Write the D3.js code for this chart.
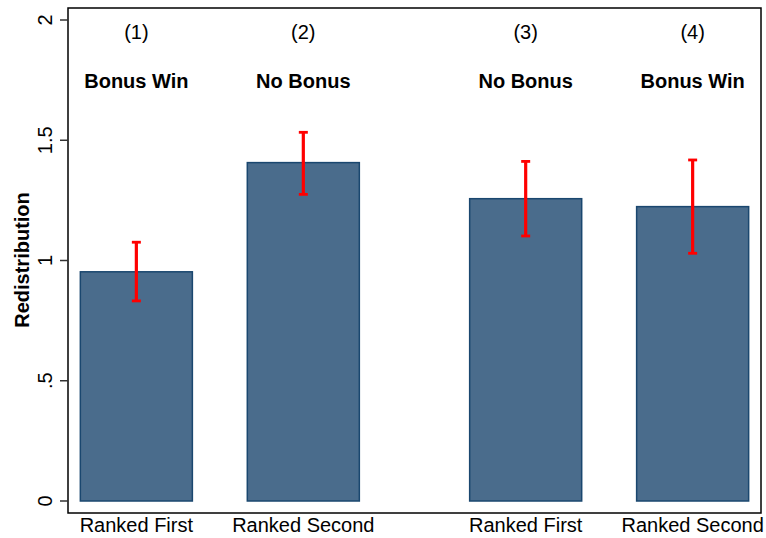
<!DOCTYPE html>
<html><head><meta charset="utf-8">
<script src="https://cdn.jsdelivr.net/npm/d3@7"></script>
<style>body{margin:0;background:#fff}svg{display:block}text{font-family:"Liberation Sans",Arial,sans-serif}</style>
</head><body>
<script>
const groups = ["G1", "G2"];
const categories = ["Ranked First", "Ranked Second"];
const columnIds = ["(1)", "(2)", "(3)", "(4)"];
const conditions = ["Bonus Win", "No Bonus", "No Bonus", "Bonus Win"];
const means = [0.953, 1.407, 1.257, 1.224];
const ciLow = [0.832, 1.275, 1.102, 1.030];
const ciHigh = [1.076, 1.533, 1.412, 1.418];
const yTicks = [0, 0.5, 1, 1.5, 2];
const yTickLabels = ["0", ".5", "1", "1.5", "2"];

const W = 766, H = 538;
const m = {left: 68, right: 5, top: 8, bottom: 25};
const FS = 20;
const svg = d3.select("body").append("svg").attr("width", W).attr("height", H);

const y = d3.scaleLinear().domain([0, 2]).range([501, 20]);
const xOuter = d3.scalePoint().domain(groups).range([m.left, W - m.right]).padding(0.39);
const inner = d3.scaleBand().domain(categories).range([-139.5, 139.5]).paddingInner(0.329).paddingOuter(0);

const data = means.map((v, i) => ({
  v, lo: ciLow[i], hi: ciHigh[i],
  g: groups[Math.floor(i / 2)], c: categories[i % 2],
  id: columnIds[i], cond: conditions[i]
}));
const xLeft = d => xOuter(d.g) + inner(d.c);
const xMid = d => xLeft(d) + inner.bandwidth() / 2;

// bars
svg.append("g").selectAll("rect").data(data).join("rect")
  .attr("x", d => xLeft(d)).attr("width", inner.bandwidth())
  .attr("y", d => y(d.v)).attr("height", d => y(0) - y(d.v))
  .attr("fill", "#4a6c8c").attr("stroke", "#1a476f").attr("stroke-width", 1.5);

// error bars
const eb = svg.append("g").attr("stroke", "#ff0000");
eb.selectAll("line.v").data(data).join("line").attr("class", "v")
  .attr("x1", xMid).attr("x2", xMid).attr("y1", d => y(d.lo)).attr("y2", d => y(d.hi))
  .attr("stroke-width", 3.2);
eb.selectAll("line.t").data(data).join("line").attr("class", "t")
  .attr("x1", d => xMid(d) - 4.5).attr("x2", d => xMid(d) + 4.5)
  .attr("y1", d => y(d.hi)).attr("y2", d => y(d.hi)).attr("stroke-width", 2.8);
eb.selectAll("line.b").data(data).join("line").attr("class", "b")
  .attr("x1", d => xMid(d) - 4.5).attr("x2", d => xMid(d) + 4.5)
  .attr("y1", d => y(d.lo)).attr("y2", d => y(d.lo)).attr("stroke-width", 2.8);

// frame
svg.append("rect").attr("x", m.left).attr("y", m.top)
  .attr("width", W - m.right - m.left).attr("height", 513 - m.top)
  .attr("fill", "none").attr("stroke", "#000").attr("stroke-width", 1.5);

// y axis
const yAxis = svg.append("g");
yAxis.selectAll("line").data(yTicks).join("line")
  .attr("x1", 60).attr("x2", m.left).attr("y1", d => y(d)).attr("y2", d => y(d))
  .attr("stroke", "#333").attr("stroke-width", 1.5);
yAxis.selectAll("text").data(yTicks).join("text")
  .attr("transform", d => `translate(52,${y(d)}) rotate(-90)`)
  .attr("text-anchor", "middle").attr("font-size", FS).attr("fill", "#000")
  .text((d, i) => yTickLabels[i]);
svg.append("text").attr("transform", `translate(29,260) rotate(-90)`)
  .attr("text-anchor", "middle").attr("font-size", FS).attr("font-weight", "bold")
  .text("Redistribution");

// labels
svg.append("g").selectAll("text").data(data).join("text")
  .attr("x", xMid).attr("y", 531.5).attr("text-anchor", "middle").attr("font-size", FS)
  .text(d => d.c);
svg.append("g").selectAll("text").data(data).join("text")
  .attr("x", xMid).attr("y", 39).attr("text-anchor", "middle").attr("font-size", FS)
  .text(d => d.id);
svg.append("g").selectAll("text").data(data).join("text")
  .attr("x", xMid).attr("y", 88).attr("text-anchor", "middle").attr("font-size", FS)
  .attr("font-weight", "bold").text(d => d.cond);
</script>
</body></html>
